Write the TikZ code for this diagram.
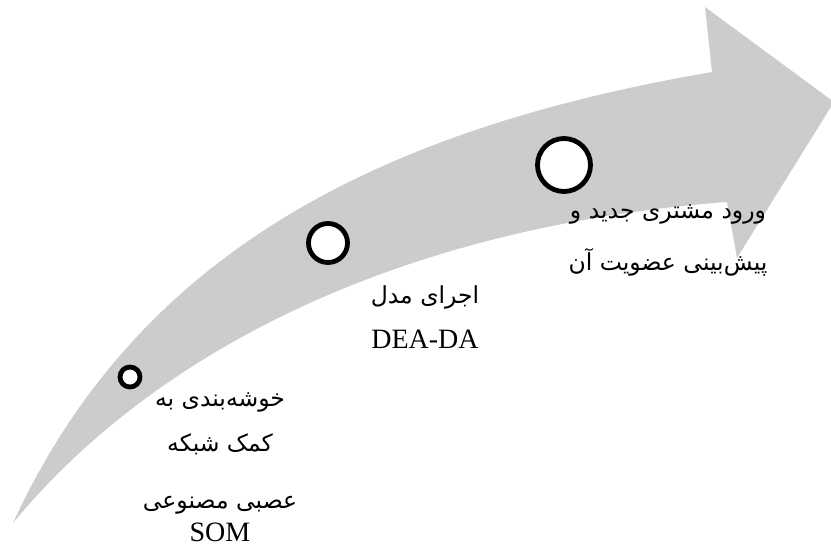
\documentclass[tikz,border=0pt]{standalone}
\usepackage{fontspec}
\setmainfont{Liberation Serif}
\newfontfamily\fa[Script=Arabic]{DejaVu Sans}
\TeXXeTstate=1
\definecolor{arrowgray}{RGB}{204,204,204}
\newcommand\fatext[1]{{\fa\fontsize{23.5}{45}\selectfont\beginR #1\endR}}
\begin{document}
\begin{tikzpicture}[x=1pt,y=-1pt,
  stage/.style={circle, draw=black, line width=4.8pt, fill=white, inner sep=0pt},
  lbl/.style={align=center, inner sep=0pt}]
\useasboundingbox (0,0) rectangle (831,549);
\fill[arrowgray] (13,523) .. controls (133,263) and (362,132) .. (712,72)
  -- (705,7) -- (834,102) -- (737,258) -- (727,202)
  .. controls (397,227) and (153,353) .. cycle;
\node[stage, minimum size=20pt] (c1) at (130,377) {};
\node[stage, minimum size=39pt] (c2) at (328,243) {};
\node[stage, minimum size=53pt] (c3) at (564,165) {};
\node[lbl, font=\fontsize{28}{45}\selectfont] (t1) at (220,467)
  {\fatext{خوشه‌بندی به}\\\fatext{کمک شبکه}\\[12pt]\fatext{عصبی مصنوعی}\\[-12pt]SOM};
\node[lbl, font=\fontsize{28}{45}\selectfont] (t2) at (425,317)
  {\fatext{اجرای مدل}\\DEA-DA};
\node[lbl, font=\fontsize{28}{52}\selectfont] (t3) at (668,240)
  {\fatext{ورود مشتری جدید و}\\\fatext{پیش‌بینی عضویت آن}};
\end{tikzpicture}
\end{document}
